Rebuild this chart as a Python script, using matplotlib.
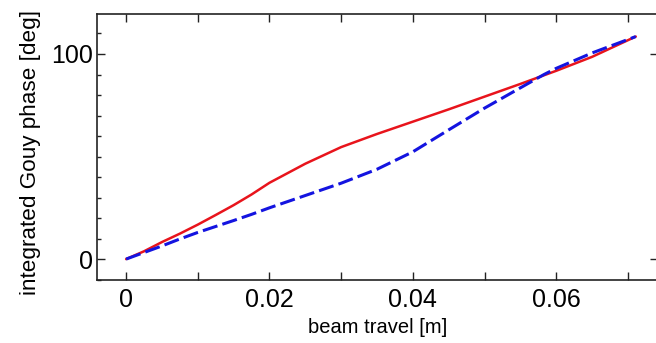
import matplotlib
matplotlib.use("Agg")
import matplotlib.pyplot as plt
from matplotlib.ticker import MultipleLocator

plt.rcParams['font.family'] = ['Liberation Sans', 'DejaVu Sans']

# beam travel [m]
x_red = [0.0, 0.0025, 0.005, 0.0075, 0.01, 0.0125, 0.015, 0.0175, 0.02, 0.025, 0.03, 0.035,
         0.04, 0.045, 0.05, 0.055, 0.06, 0.065, 0.0711]
# integrated Gouy phase [deg]
y_red = [0.0, 3.8, 8.3, 12.4, 16.8, 21.5, 26.3, 31.5, 37.2, 46.5, 54.6, 61.0,
         67.0, 73.0, 79.2, 85.4, 91.8, 98.6, 108.5]

x_blue = [0.0, 0.0025, 0.005, 0.0075, 0.01, 0.0125, 0.015, 0.0175, 0.02, 0.025, 0.03, 0.035,
          0.04, 0.045, 0.05, 0.055, 0.0583, 0.06, 0.065, 0.0711]
y_blue = [0.0, 3.2, 6.4, 9.8, 13.0, 15.9, 18.8, 21.8, 25.0, 31.0, 37.0, 43.8,
          52.3, 63.0, 73.6, 83.5, 90.0, 93.0, 100.5, 108.5]

fig = plt.figure(figsize=(6.56, 3.43), dpi=100)
ax = fig.add_axes([97/656, 1 - 280/343, 561/656, (280 - 14)/343])

ax.plot(x_red, y_red, color='#e8141c', lw=1.8, solid_capstyle='round')
ax.plot(x_blue, y_blue, color='#1414e0', lw=2.2, dashes=(5, 1.7))

ax.set_xlim(-0.00406, 0.0742)
ax.set_ylim(-10.2, 119.5)

ax.xaxis.set_minor_locator(MultipleLocator(0.01))
ax.yaxis.set_minor_locator(MultipleLocator(10))
ax.set_xticks([0, 0.02, 0.04, 0.06])
ax.set_xticklabels(['0', '0.02', '0.04', '0.06'])
ax.set_yticks([0, 100])
ax.set_yticklabels(['0', '100'])

for s in ax.spines.values():
    s.set_linewidth(1.2)
    s.set_color('#222222')
ax.spines['right'].set_visible(False)

ax.tick_params(axis='x', which='both', direction='in', top=True, bottom=True,
               length=6, width=1.0, labelsize=18, pad=6, color='#222222')
ax.tick_params(axis='y', which='major', direction='in', left=True, right=True,
               length=6, width=1.0, labelsize=18, pad=3, color='#222222')
ax.tick_params(axis='y', which='minor', direction='in', left=True, right=False,
               length=3, width=1.0, color='#222222')

ax.set_xlabel('beam travel [m]', fontsize=14.5)
ax.xaxis.set_label_coords(0.482, -0.145, transform=None) if False else None
ax.xaxis.label.set_va('top')
ax.set_ylabel('integrated Gouy phase [deg]', fontsize=16.2)
ax.yaxis.set_label_coords(-0.119, 0.481)
ax.yaxis.label.set_va('center')

fig.savefig('out.png', dpi=100)
